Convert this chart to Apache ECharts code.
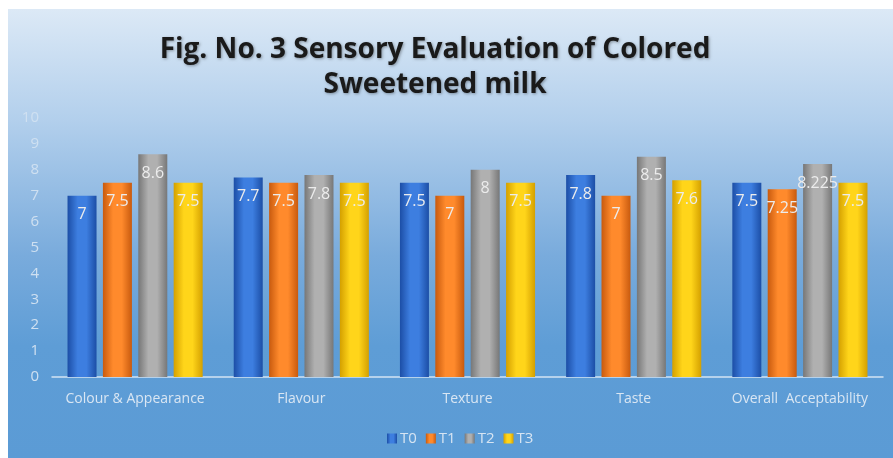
<!DOCTYPE html>
<html>
<head>
<meta charset="utf-8">
<script src="https://cdn.jsdelivr.net/npm/echarts@6/dist/echarts.min.js"></script>
<style>
  html, body { margin: 0; padding: 0; background: #fff; }
  #main { width: 893px; height: 458px; }
</style>
</head>
<body>
<div id="main"></div>
<script>
// data
var categories = ['Colour & Appearance', 'Flavour', 'Texture', 'Taste', 'Overall  Acceptability'];
var t0 = [7, 7.7, 7.5, 7.8, 7.5];
var t1 = [7.5, 7.5, 7, 7, 7.25];
var t2 = [8.6, 7.8, 8, 8.5, 8.225];
var t3 = [7.5, 7.5, 7.5, 7.6, 7.5];
var seriesNames = ['T0', 'T1', 'T2', 'T3'];

// edge / middle colours for a cylinder look
var barColors = [
  ['#1c4ea6', '#3d7ee0'],
  ['#c85a0e', '#ff8a2c'],
  ['#777777', '#b0b0b0'],
  ['#d4a000', '#ffd51a']
];

function cylinder(c) {
  return new echarts.graphic.LinearGradient(0, 0, 1, 0, [
    { offset: 0, color: c[0] },
    { offset: 0.35, color: c[1] },
    { offset: 0.65, color: c[1] },
    { offset: 1, color: c[0] }
  ]);
}

function makeSeries(name, data, i) {
  return {
    name: name,
    type: 'bar',
    data: data,
    barWidth: 29,
    barGap: '22%',
    itemStyle: { color: cylinder(barColors[i]) },
    label: {
      show: true,
      position: 'insideTop',
      distance: 11,
      color: '#ececec',
      fontSize: 16,
      fontFamily: 'Open Sans'
    }
  };
}

var chart = echarts.init(document.getElementById('main'));
chart.setOption({
  animation: false,
  textStyle: { fontFamily: 'Open Sans' },
  graphic: [{
    type: 'rect',
    z: -10,
    shape: { x: 8, y: 9, width: 885, height: 449 },
    style: {
      fill: new echarts.graphic.LinearGradient(0, 0, 0, 1, [
        { offset: 0, color: '#dce9f6' },
        { offset: 0.25, color: '#b2cfec' },
        { offset: 0.55, color: '#79abdc' },
        { offset: 0.75, color: '#5e9dd6' },
        { offset: 1, color: '#5b9bd5' }
      ])
    }
  }],
  title: {
    text: 'Fig. No. 3 Sensory Evaluation of Colored\nSweetened milk',
    left: 430,
    textAlign: 'center',
    top: 28,
    textStyle: {
      fontFamily: 'Open Sans',
      fontWeight: 'bold',
      fontSize: 28,
      lineHeight: 35,
      color: '#1a1a1a',
      textShadowColor: 'rgba(0,0,0,0.35)',
      textShadowBlur: 3,
      textShadowOffsetX: 1,
      textShadowOffsetY: 1
    }
  },
  legend: {
    data: seriesNames,
    left: 382,
    top: 426,
    itemWidth: 10,
    itemHeight: 10,
    itemGap: 9,
    icon: 'rect',
    textStyle: { color: '#d6e4f2', fontSize: 15, padding: [0, 0, 0, -2] }
  },
  grid: { left: 52, right: 10, top: 118, bottom: 81 },
  xAxis: {
    type: 'category',
    data: categories,
    axisLine: { lineStyle: { color: '#d3e3f3', width: 1.5 } },
    axisTick: { show: false },
    axisLabel: { color: '#d9e6f3', fontSize: 14, margin: 15, interval: 0 }
  },
  yAxis: {
    type: 'value',
    min: 0,
    max: 10,
    interval: 1,
    splitLine: { show: false },
    axisLine: { show: false },
    axisLabel: { color: '#cfe0f1', fontSize: 15, margin: 13 }
  },
  series: [
    makeSeries('T0', t0, 0),
    makeSeries('T1', t1, 1),
    makeSeries('T2', t2, 2),
    makeSeries('T3', t3, 3)
  ]
});
</script>
</body>
</html>
